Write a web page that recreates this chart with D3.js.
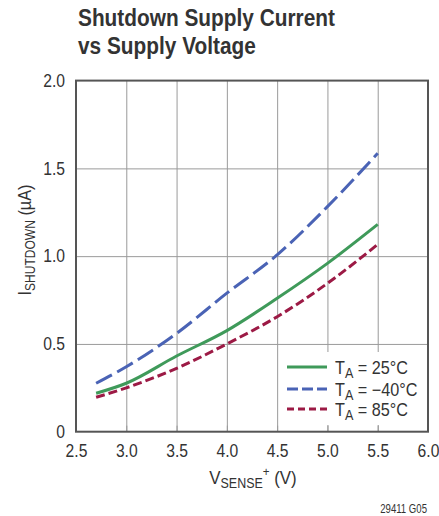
<!DOCTYPE html>
<html><head><meta charset="utf-8">
<script src="https://cdn.jsdelivr.net/npm/d3@7"></script>
<style>
html,body{margin:0;padding:0;background:#fff;}
svg text{font-family:"Liberation Sans Narrow","Arial Narrow","Liberation Sans",sans-serif;fill:#333;}
</style></head>
<body>
<svg id="c" width="439" height="516"></svg>
<script>
// ---- data ----
const xTicks = [2.5, 3.0, 3.5, 4.0, 4.5, 5.0, 5.5, 6.0];
const xTickLabels = ["2.5","3.0","3.5","4.0","4.5","5.0","5.5","6.0"];
const yTicks = [0, 0.5, 1.0, 1.5, 2.0];
const yTickLabels = ["0","0.5","1.0","1.5","2.0"];
const voltage = [2.7, 3.0, 3.5, 4.0, 4.5, 5.0, 5.5];
const i25 = [0.219, 0.276, 0.431, 0.576, 0.760, 0.959, 1.181];
const iM40 = [0.276, 0.370, 0.560, 0.789, 1.007, 1.282, 1.586];
const i85 = [0.196, 0.250, 0.361, 0.500, 0.655, 0.845, 1.067];
const seriesNames = ["25°C", "−40°C", "85°C"];

const svg = d3.select("#c");
const L = 76, R = 428, T = 80.6, B = 431.7;
const x = d3.scaleLinear().domain([2.5, 6.0]).range([L, R]);
const y = d3.scaleLinear().domain([0, 2.0]).range([B, T]);

// squeeze a text horizontally about its anchor point
function condense(sel, k) {
  sel.each(function () {
    const ax = +(this.getAttribute("x") || 0), ay = +(this.getAttribute("y") || 0);
    this.setAttribute("transform", `translate(${ax},${ay}) scale(${k},1) translate(${-ax},${-ay})`);
  });
}

// title
const title = svg.append("text").attr("x", 78).attr("y", 26)
  .style("font-weight", "bold").style("font-size", "24px").style("fill", "#333");
title.append("tspan").attr("x", 78).attr("y", 26).text("Shutdown Supply Current");
title.append("tspan").attr("x", 78).attr("y", 54).text("vs Supply Voltage");
{
  const w = title.node().getBBox().width;
  condense(title, 257 / w);
}

// grid
const gx = svg.append("g").attr("transform", `translate(0,${B})`)
  .call(d3.axisBottom(x).tickValues(xTicks.slice(1, -1)).tickSize(-(B - T)).tickFormat(""));
gx.select(".domain").remove();
gx.selectAll("line").attr("stroke", "#9a9a9a").attr("stroke-width", 1);
const gy = svg.append("g").attr("transform", `translate(${L},0)`)
  .call(d3.axisLeft(y).tickValues(yTicks.slice(1, -1)).tickSize(-(R - L)).tickFormat(""));
gy.select(".domain").remove();
gy.selectAll("line").attr("stroke", "#9a9a9a").attr("stroke-width", 1);

// lines
const line = d3.line().x(d => x(d[0])).y(d => y(d[1])).curve(d3.curveMonotoneX);
const series = [
  {vals: i25, color: "#3f9a5a", dash: null, ldash: null},
  {vals: iM40, color: "#4a63b5", dash: "18,6", ldash: "11,4"},
  {vals: i85, color: "#9c1a45", dash: "9,4", ldash: "7,4"}
];
series.forEach(s => {
  svg.append("path").datum(voltage.map((v, i) => [v, s.vals[i]]))
    .attr("d", line).attr("fill", "none").attr("stroke", s.color)
    .attr("stroke-width", 3).attr("stroke-dasharray", s.dash);
});

// legend
svg.append("rect").attr("x", 280).attr("y", 352).attr("width", 146).attr("height", 73).attr("fill", "#fff");
// inner bottom ticks (visible over legend)
const gt = svg.append("g").attr("transform", `translate(0,${B})`)
  .call(d3.axisBottom(x).tickValues(xTicks.slice(1, -1)).tickSize(-6).tickFormat(""));
gt.select(".domain").remove();
gt.selectAll("line").attr("stroke", "#9a9a9a").attr("stroke-width", 1);

const ly = [367, 389, 409];
series.forEach((s, i) => {
  svg.append("line").attr("x1", 287).attr("x2", 327).attr("y1", ly[i]).attr("y2", ly[i])
    .attr("stroke", s.color).attr("stroke-width", 3).attr("stroke-dasharray", s.ldash);
  const t = svg.append("text").attr("x", 335).attr("y", ly[i] + 7.5).style("font-size", "18px");
  t.append("tspan").text("T");
  t.append("tspan").attr("dy", 4).style("font-size", "14px").text("A");
  t.append("tspan").attr("dy", -4).text(" = " + seriesNames[i]);
  condense(t, 0.9);
});

// border
svg.append("rect").attr("x", L).attr("y", T).attr("width", R - L).attr("height", B - T)
  .attr("fill", "none").attr("stroke", "#555").attr("stroke-width", 2);

// tick labels
const ax = svg.append("g").attr("transform", `translate(0,${B})`)
  .call(d3.axisBottom(x).tickValues(xTicks).tickSize(0).tickPadding(0)
    .tickFormat((d, i) => xTickLabels[i]));
ax.select(".domain").remove();
ax.attr("font-family", null).attr("font-size", null);
ax.selectAll("text").attr("dy", null).attr("y", 25.5).style("font-size", "18px").style("fill", "#333");
condense(ax.selectAll("text"), 0.87);
const ay = svg.append("g").attr("transform", `translate(${L},0)`)
  .call(d3.axisLeft(y).tickValues(yTicks).tickSize(0).tickPadding(11)
    .tickFormat((d, i) => yTickLabels[i]));
ay.select(".domain").remove();
ay.attr("font-family", null).attr("font-size", null);
ay.selectAll("text").style("font-size", "18px").style("fill", "#333");
condense(ay.selectAll("text"), 0.87);

// axis titles
const xt = svg.append("text").attr("x", 253).attr("y", 484).attr("text-anchor", "middle").style("font-size", "19px");
xt.append("tspan").text("V");
xt.append("tspan").attr("dy", 4).style("font-size", "14px").text("SENSE");
xt.append("tspan").attr("dy", -12).style("font-size", "13px").text("+");
xt.append("tspan").attr("dy", 8).text(" (V)");
condense(xt, 0.89);

const ytg = svg.append("g").attr("transform", "translate(31,240) rotate(-90)");
const yt = ytg.append("text").attr("x", 0).attr("y", 0)
  .attr("text-anchor", "middle").style("font-size", "19px");
yt.append("tspan").text("I");
yt.append("tspan").attr("dy", 4).style("font-size", "14px").text("SHUTDOWN");
yt.append("tspan").attr("dy", -4).text(" (µA)");
condense(yt, 0.86);

const fn = svg.append("text").attr("x", 427).attr("y", 513).attr("text-anchor", "end")
  .style("font-size", "12px").text("29411 G05");
condense(fn, 0.8);
</script>
</body></html>
